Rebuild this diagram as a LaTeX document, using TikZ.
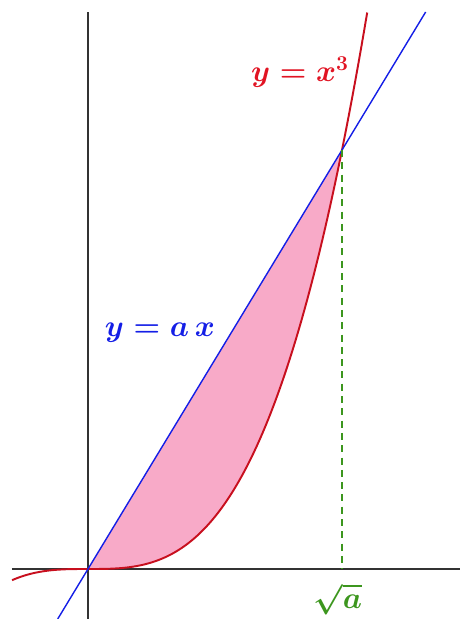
\documentclass[tikz,border=0pt]{standalone}
\usepackage{amsmath}
\definecolor{cubered}{RGB}{200,15,30}
\definecolor{labelred}{RGB}{225,20,35}
\definecolor{lineblue}{RGB}{20,30,230}
\definecolor{areapink}{RGB}{248,170,200}
\definecolor{rootgreen}{RGB}{60,150,30}
\tikzset{
  axis/.style={draw=black!80, line width=0.7pt},
  cube/.style={draw=cubered, line width=1.1pt},
  linear/.style={draw=lineblue, line width=0.8pt},
  guide/.style={draw=rootgreen, line width=0.8pt, dash pattern=on 4pt off 3pt},
  curvelabel/.style={font=\LARGE\boldmath}
}
\begin{document}
\begin{tikzpicture}
\useasboundingbox (-1.76,-1.0) rectangle (7.44,11.38);
\coordinate (O) at (0,0);
\coordinate (P) at (5.08,8.38);
% area between the line and the cubic
\fill[areapink] plot[domain=0:1,samples=80] ({5.08*\x},{8.38*\x*\x*\x}) -- cycle;
% axes
\draw[axis] (-1.52,0) -- (7.44,0);
\draw[axis] (0,-1.0) -- (0,11.14);
% y = x^3 and y = a x
\draw[cube] plot[domain=-0.299:1.0995,samples=120] ({5.08*\x},{8.38*\x*\x*\x});
\draw[linear] (-0.606,-1.0) -- (6.753,11.14);
\draw[guide] (P) -- (P |- O);
\node[curvelabel, text=labelred] (cubelabel) at (4.24,9.94) {$y=x^3$};
\node[curvelabel, text=lineblue] (linelabel) at (1.44,4.72) {$y=a\,x$};
\node[curvelabel, text=rootgreen] (rootlabel) at (5.0,-0.6) {$\sqrt{a}$};
\end{tikzpicture}
\end{document}
